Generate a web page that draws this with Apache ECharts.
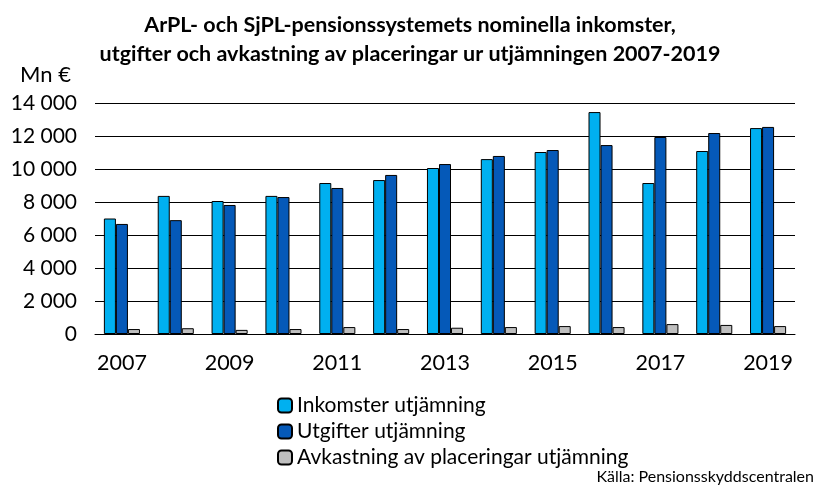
<!DOCTYPE html>
<html><head><meta charset="utf-8">
<script src="https://cdn.jsdelivr.net/npm/echarts@6/dist/echarts.min.js"></script>
</head><body style="margin:0">
<div id="c" style="width:820px;height:492px"></div>
<script>
const categories=['2007','2008','2009','2010','2011','2012','2013','2014','2015','2016','2017','2018','2019'];
const inkomster=[7000,8370,8060,8370,9150,9330,10060,10600,11030,13450,9150,11090,12480];
const utgifter=[6670,6900,7820,8300,8850,9640,10300,10790,11150,11450,11940,12180,12550];
const avkastning=[300,350,250,300,420,300,380,420,480,420,600,550,480];
const F='Lato, "Liberation Sans", Arial, sans-serif';
const bs={borderColor:'#000',borderWidth:1};
const ch=echarts.init(document.getElementById('c'));
ch.setOption({
 animation:false,
 title:{text:'ArPL- och SjPL-pensionssystemets nominella inkomster,\nutgifter och avkastning av placeringar ur utjämningen 2007-2019',left:'center',top:6,textStyle:{fontFamily:F,fontSize:21.5,fontWeight:'bold',color:'#000',lineHeight:29}},
 grid:{left:95,right:25,top:103,bottom:158},
 legend:{orient:'vertical',left:272,top:390,itemWidth:14,itemHeight:14,itemGap:5,textStyle:{fontFamily:F,fontSize:21,color:'#000'}},
 graphic:[{type:'text',left:20,top:64,style:{text:'Mn €',font:'22px '+F,fill:'#000'}},
  {type:'text',right:6,top:469,style:{text:'Källa: Pensionsskyddscentralen',font:'16px '+F,fill:'#000'}}],
 xAxis:{type:'category',data:categories,axisLine:{lineStyle:{color:'#000'}},axisTick:{length:12,lineStyle:{color:'#000'}},axisLabel:{fontFamily:F,fontSize:21.5,color:'#000',margin:18}},
 yAxis:{type:'value',min:0,max:14000,interval:2000,axisLine:{show:false},axisTick:{show:false},splitLine:{lineStyle:{color:'#000'}},
  axisLabel:{fontFamily:F,fontSize:21,color:'#000',margin:18,formatter:v=>v.toLocaleString('fi-FI').replace(/\s/g,' ')}},
 series:[
  {name:'Inkomster utjämning',type:'bar',data:inkomster,barGap:'0%',barCategoryGap:'33%',itemStyle:{color:'#00B0F0',...bs}},
  {name:'Utgifter utjämning',type:'bar',data:utgifter,itemStyle:{color:'#0559B8',...bs}},
  {name:'Avkastning av placeringar utjämning',type:'bar',data:avkastning,itemStyle:{color:'#BFBFBF',...bs}}
 ]
});
</script></body></html>
